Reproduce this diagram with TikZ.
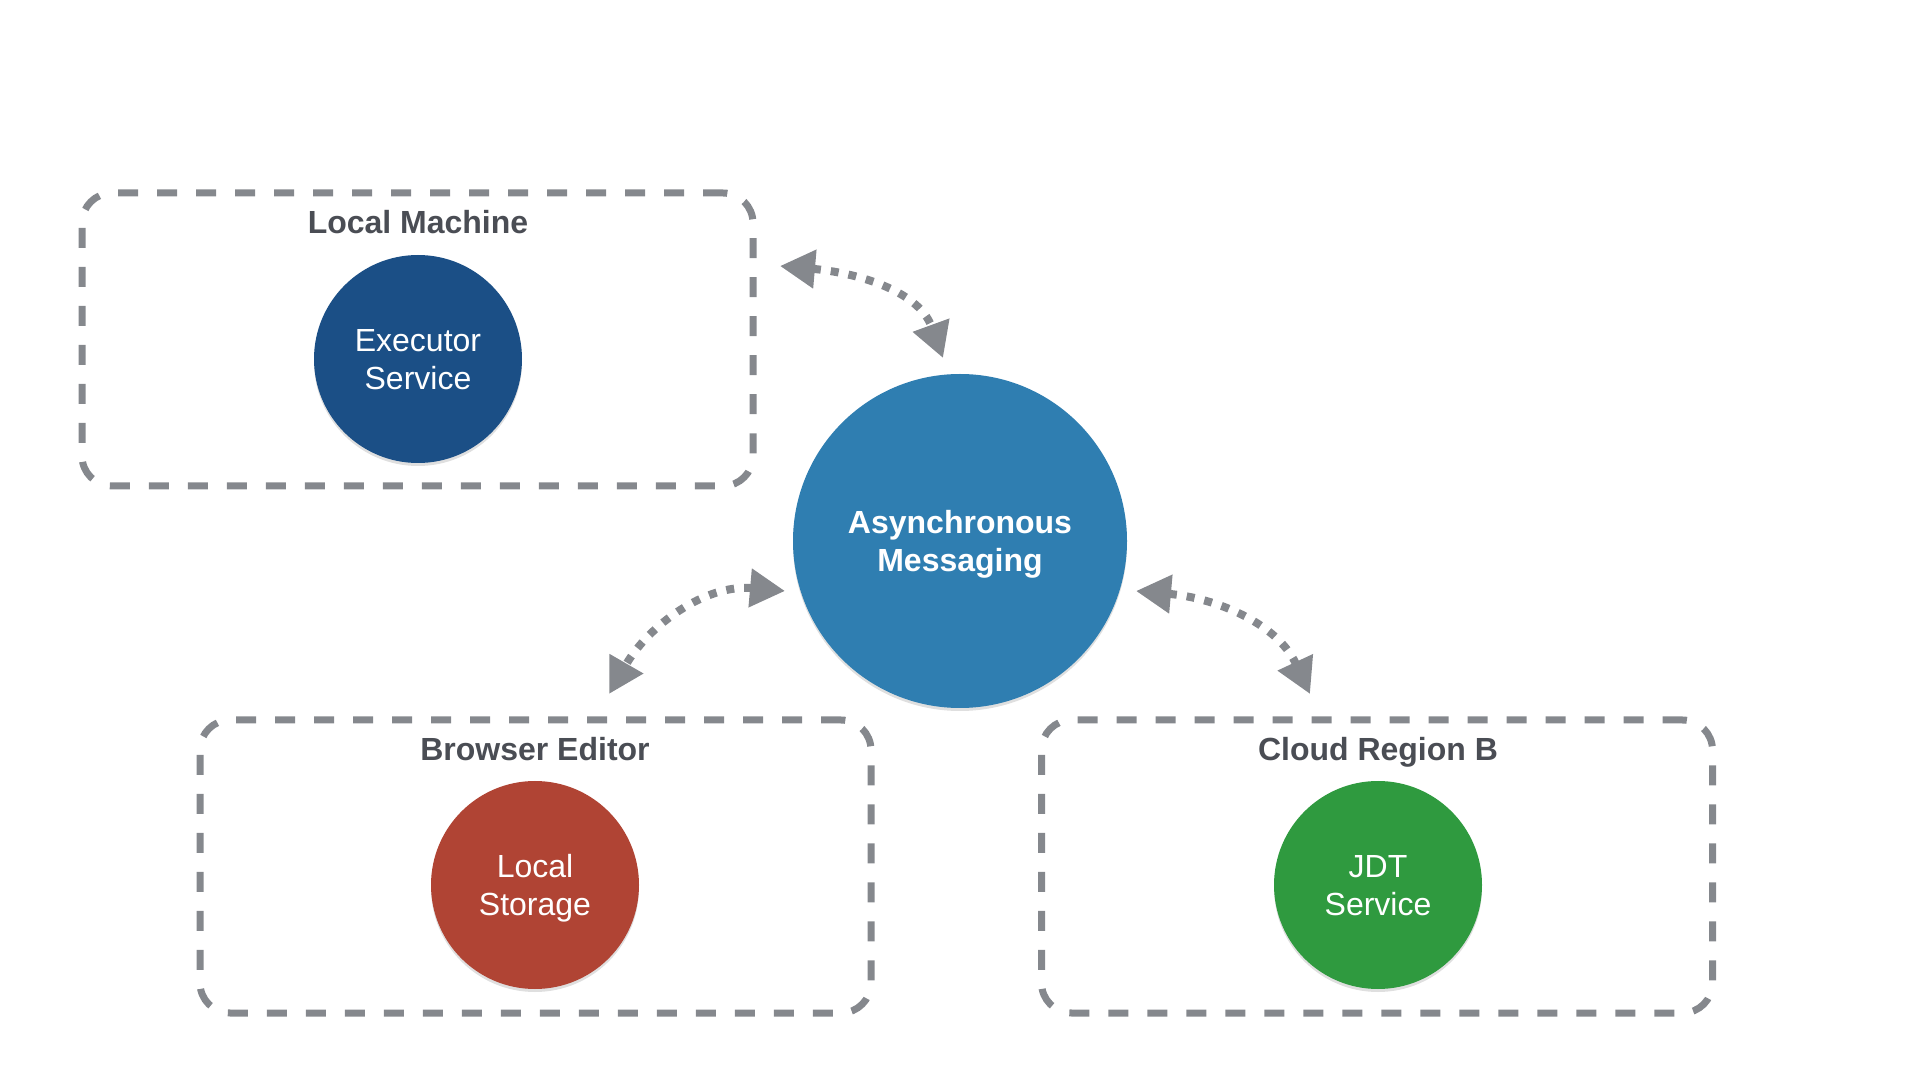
\documentclass[tikz,border=0pt]{standalone}
\usepackage{fontspec}
\setmainfont{Liberation Sans}
\usetikzlibrary{arrows.meta,shadows}

\definecolor{boxgray}{HTML}{85888D}
\definecolor{titlegray}{HTML}{4A4D54}
\definecolor{execblue}{HTML}{1B4F86}
\definecolor{msgblue}{HTML}{2F7EB1}
\definecolor{storered}{HTML}{B04434}
\definecolor{jdtgreen}{HTML}{2F9A3F}

\begin{document}
\begin{tikzpicture}[
  x = 1pt, y = 1pt,
  region/.style = {
    shape = rectangle,
    draw = boxgray,
    line width = 7pt,
    dash pattern = on 20pt off 19pt,
    rounded corners = 30pt,
    minimum width = 671pt,
    minimum height = 293pt,
  },
  regiontitle/.style = {
    text = titlegray,
    text depth = 0pt,
    font = \bfseries\fontsize{32}{38}\selectfont,
  },
  service/.style = {
    shape = circle,
    minimum size = 208pt,
    inner sep = 0pt,
    text = white,
    text depth = 0pt,
    align = center,
    font = \fontsize{32}{38}\selectfont,
    drop shadow = {shadow xshift = 0pt, shadow yshift = -3pt, opacity = 0.25},
  },
  link/.style = {
    draw = boxgray,
    line width = 8pt,
    dash pattern = on 8pt off 10pt,
    {Triangle[length = 35pt, width = 37pt]}-{Triangle[length = 35pt, width = 37pt]},
  }
]
  \useasboundingbox (0, 0) rectangle (1920, 1080);

  \node[region] (lm) at (417.5, 740.5) {};
  \node[region] (be) at (535.5, 213.5) {};
  \node[region] (cr) at (1377, 213.5) {};

  \node[regiontitle] (lmtitle) at (418, 858) {Local Machine};
  \node[regiontitle] (betitle) at (535, 331) {Browser Editor};
  \node[regiontitle] (crtitle) at (1378, 331) {Cloud Region B};

  \node[service, fill = execblue] (exec) at (418, 721) {Executor\\Service};
  \node[service, fill = storered] (store) at (535, 195) {Local\\Storage};
  \node[service, fill = jdtgreen] (jdt) at (1378, 195) {JDT\\Service};
  \node[service, fill = msgblue, minimum size = 334pt, font = \bfseries\fontsize{32}{38}\selectfont]
    (async) at (960, 539) {Asynchronous\\Messaging};

  \coordinate (lmtip) at (780, 814);
  \coordinate (msgtop) at (943, 722);
  \coordinate (msgleft) at (785, 489);
  \coordinate (betip) at (609, 386);
  \coordinate (msgright) at (1136, 489);
  \coordinate (crtip) at (1310, 386);

  \begin{scope}[every path/.style = { link }]
    \draw (lmtip) to[out = -5, in = 110] (msgtop);
    \draw (msgleft) to[out = 175, in = 60] (betip);
    \draw (msgright) to[out = -5, in = 115] (crtip);
  \end{scope}
\end{tikzpicture}
\end{document}
